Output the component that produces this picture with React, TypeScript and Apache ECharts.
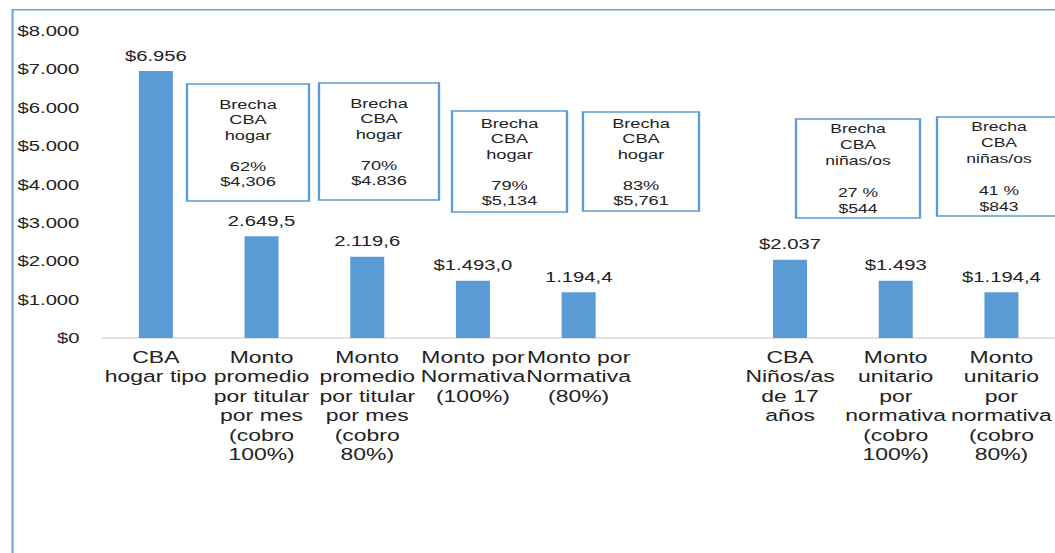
import React, { useEffect, useRef } from "react";
import * as echarts from "echarts";

const categories = [
  "CBA\nhogar tipo",
  "Monto\npromedio\npor titular\npor mes\n(cobro\n100%)",
  "Monto\npromedio\npor titular\npor mes\n(cobro\n80%)",
  "Monto por\nNormativa\n(100%)",
  "Monto por\nNormativa\n(80%)",
  "",
  "CBA\nNiños/as\nde 17\naños",
  "Monto\nunitario\npor\nnormativa\n(cobro\n100%)",
  "Monto\nunitario\npor\nnormativa\n(cobro\n80%)",
];
const values = [6956, 2649.5, 2119.6, 1493.0, 1194.4, null, 2037, 1493, 1194.4];
const valueLabels = ["$6.956", "2.649,5", "2.119,6", "$1.493,0", "1.194,4", "", "$2.037", "$1.493", "$1.194,4"];

const gapTitles = [
  "Brecha\nCBA\nhogar",
  "Brecha\nCBA\nhogar",
  "Brecha\nCBA\nhogar",
  "Brecha\nCBA\nhogar",
  "Brecha\nCBA\nniñas/os",
  "Brecha\nCBA\nniñas/os",
];
const gapPercents = ["62%", "70%", "79%", "83%", "27 %", "41 %"];
const gapAmounts = ["$4,306", "$4.836", "$5,134", "$5,761", "$544", "$843"];

// layout (reference pixel boxes: x1, y1, x2, y2)
const boxLayout = [
  [187, 84, 309, 201],
  [319, 83, 439, 200],
  [452, 111, 567, 212],
  [583, 112, 699, 211],
  [796, 119, 920, 218],
  [937, 117, 1100, 216],
];

const SX = 1.35;
const W = 782;
const H = 553;
const FONT = '"Liberation Sans", Arial, Helvetica, sans-serif';
const BLUE = "#5B9BD5";

export default function App() {
  const ref = useRef<HTMLDivElement>(null);

  useEffect(() => {
    document.body.style.margin = "0";
    if (!ref.current) return;
    const chart = echarts.init(ref.current, null, { renderer: "svg", width: W, height: H });

    const graphics: any[] = [
      {
        type: "rect",
        shape: { x: 9.3, y: 9.8, width: 900, height: 700 },
        style: { fill: "none", stroke: "#6fa3da", lineWidth: 1.6 },
        silent: true,
      },
    ];
    boxLayout.forEach((b, i) => {
      const x1 = b[0] / SX;
      const x2 = b[2] / SX;
      const small = i >= 4;
      graphics.push({
        type: "rect",
        shape: { x: x1, y: b[1], width: x2 - x1, height: b[3] - b[1] },
        style: { fill: "#fff", stroke: BLUE, lineWidth: 1.7 },
        silent: true,
      });
      graphics.push({
        type: "text",
        x: (x1 + Math.min(x2, (b[0] + 124) / SX)) / 2,
        y: (b[1] + b[3]) / 2,
        style: {
          text: gapTitles[i] + "\n\n" + gapPercents[i] + "\n" + gapAmounts[i],
          fill: "#222",
          font: (small ? "13px " : "13.5px ") + FONT,
          lineHeight: small ? 16 : 15.5,
          textAlign: "center",
          textVerticalAlign: "middle",
        },
        silent: true,
      });
    });

    chart.setOption({
      animation: false,
      textStyle: { fontFamily: FONT },
      grid: { left: 103 / SX, top: 31, width: 954 / SX, height: 307, containLabel: false },
      xAxis: {
        type: "category",
        data: categories,
        axisTick: { show: false },
        axisLine: { lineStyle: { color: "#d9d9d9", width: 1.5 } },
        axisLabel: {
          interval: 0,
          fontSize: 17,
          lineHeight: 19.5,
          color: "#222",
          margin: 9,
          fontFamily: FONT,
        },
      },
      yAxis: {
        type: "value",
        min: 0,
        max: 8000,
        interval: 1000,
        splitLine: { show: false },
        axisLine: { show: false },
        axisTick: { show: false },
        axisLabel: {
          fontSize: 15,
          color: "#222",
          margin: 17.5,
          fontFamily: FONT,
          formatter: (v: number) => (v === 0 ? "$0" : "$" + v / 1000 + ".000"),
        },
      },
      series: [
        {
          type: "bar",
          data: values,
          barWidth: 34 / SX,
          itemStyle: { color: BLUE },
          label: {
            show: true,
            position: "top",
            distance: 8,
            fontSize: 15,
            color: "#222",
            fontFamily: FONT,
            formatter: (p: any) => valueLabels[p.dataIndex],
          },
        },
      ],
      graphic: graphics,
    });

    return () => chart.dispose();
  }, []);

  return (
    <div
      ref={ref}
      style={{
        position: "absolute",
        left: 0,
        top: 0,
        width: W,
        height: H,
        transform: `scaleX(${SX})`,
        transformOrigin: "0 0",
        background: "#fff",
      }}
    />
  );
}
